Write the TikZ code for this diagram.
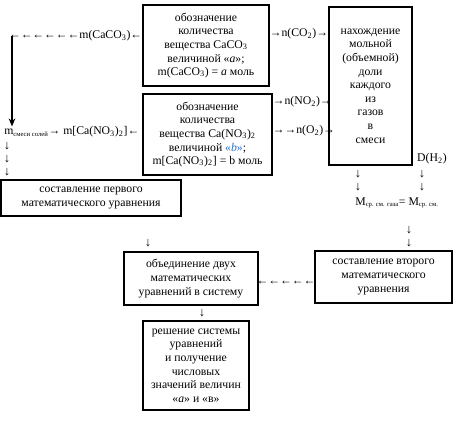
\documentclass[tikz,border=0pt]{standalone}
\usepackage{fontspec}
\setmainfont{Liberation Serif}
\usetikzlibrary{arrows.meta}
\definecolor{bblue}{RGB}{40,110,200}
\tikzset{
  box/.style={draw, line width=0.8pt, align=center, inner sep=0pt, font=\fontsize{8.8}{10.2}\selectfont},
  lbl/.style={inner sep=0pt, font=\fontsize{8.8}{10.2}\selectfont},
  dn/.style={inner sep=0pt, font=\fontsize{9.5}{10}\selectfont},
  thickarrow/.style={line width=1.4pt, -{Stealth[length=6pt,width=5pt]}}
}
\begin{document}
\begin{tikzpicture}[x=0.75pt,y=-0.75pt]
\useasboundingbox (0,0) rectangle (457,422);
% boxes
\node[box, minimum width=126*0.75pt, minimum height=81*0.75pt] (b1) at (206,45.5)
  {обозначение\\количества\\вещества CaCO\textsubscript{3}\\величиной «\textit{a}»;\\m(CaCO\textsubscript{3}) = \textit{a} моль};
\node[box, minimum width=129*0.75pt, minimum height=81*0.75pt] (b2) at (207.5,134.5)
  {обозначение\\количества\\вещества Ca(NO\textsubscript{3})\textsubscript{2}\\величиной {\color{bblue}«\textit{b}»};\\m[Ca(NO\textsubscript{3})\textsubscript{2}] = b моль};
\node[box, minimum width=83*0.75pt, minimum height=158*0.75pt] (b3) at (370.5,86)
  {нахождение\\мольной\\(объемной)\\доли\\каждого\\из\\газов\\в\\смеси};
\node[box, minimum width=180*0.75pt, minimum height=36*0.75pt] (b4) at (91,198)
  {составление первого\\математического уравнения};
\node[box, minimum width=134*0.75pt, minimum height=53*0.75pt] (b5) at (191,278.5)
  {объединение двух\\математических\\уравнений в систему};
\node[box, minimum width=137*0.75pt, minimum height=52*0.75pt] (b6) at (383.5,277)
  {составление второго\\математического\\уравнения};
\node[box, minimum width=106*0.75pt, minimum height=89*0.75pt] (b7) at (196,365.5)
  {решение системы\\уравнений\\и получение\\числовых\\значений величин\\«\textit{a}» и «в»};
% text rows
\node[lbl, anchor=east] (r1) at (b1.west |- 0,36) {←←←←←←m(CaCO\textsubscript{3})←};
\node[lbl, anchor=west] (r2) at (4,132) {m\textsubscript{\fontsize{5}{6}\selectfont смеси солей}→ m[Ca(NO\textsubscript{3})\textsubscript{2}]←};
\node[lbl, anchor=west] (r3) at (b1.east |- 0,34) {→n(CO\textsubscript{2})→};
\node[lbl, anchor=west] (r4) at (b2.east |- 0,102) {→n(NO\textsubscript{2})→};
\node[lbl, anchor=west] (r5) at (b2.east |- 0,131) {→→n(O\textsubscript{2})→};
\node[lbl] (dh) at (432,159) {D(H\textsubscript{2})};
\node[lbl] (mm) at (397,203) {M\textsubscript{\fontsize{5}{6}\selectfont ср. см. газа}= M\textsubscript{\fontsize{5}{6}\selectfont ср. см.}};
\node[lbl] (r6) at (286,283) {←←←←←};
% small down arrows
\node[dn] (d1) at (7,146) {↓};
\node[dn] (d2) at (7,159) {↓};
\node[dn] (d3) at (7,172) {↓};
\node[dn] (d4) at (358,174) {↓};
\node[dn] (d5) at (358,187) {↓};
\node[dn] (d6) at (422,174) {↓};
\node[dn] (d7) at (422,187) {↓};
\node[dn] (d8) at (148,243) {↓};
\node[dn] (d9) at (409,230) {↓};
\node[dn] (d10) at (409,243) {↓};
\node[dn] (d11) at (202,313) {↓};
% thick connector
\coordinate (tl) at (12,36);
\draw[thickarrow] (tl) -- (tl |- r2.north);
\end{tikzpicture}
\end{document}
